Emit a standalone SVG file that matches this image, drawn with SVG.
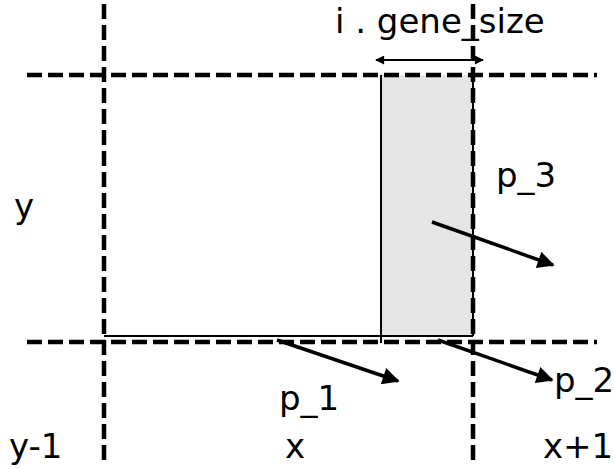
<svg xmlns="http://www.w3.org/2000/svg" width="614" height="469" viewBox="0 0 614 469">
<style>
.grid{stroke:#000;stroke-width:4.5;stroke-dasharray:15 6;fill:none}
.edge{stroke:#000;stroke-width:2;fill:none}
.arr{stroke:#000;stroke-width:3.5;fill:none;marker-end:url(#big)}
text{font-family:"DejaVu Sans",sans-serif;font-size:34px;fill:#000}
</style>
<defs>
<marker id="big" viewBox="0 0 10 10" refX="9" refY="5" markerUnits="userSpaceOnUse" markerWidth="22" markerHeight="17" orient="auto">
<path d="M0,0 L10,5 L0,10 z" fill="#000"/>
</marker>
<marker id="sm" viewBox="0 0 10 10" refX="9" refY="5" markerUnits="userSpaceOnUse" markerWidth="11" markerHeight="9" orient="auto-start-reverse">
<path d="M0,0 L10,5 L0,10 z" fill="#000"/>
</marker>
</defs>
<g id="cell">
<rect x="104" y="75" width="277" height="261" fill="#fff"/>
<rect x="381" y="75" width="92" height="261" fill="#e5e5e5"/>
<path class="edge" d="M381,75 V343 M104,336 H473 M473,75 V336"/>
</g>
<g id="gridlines">
<path class="grid" d="M104,4 V462"/>
<path class="grid" d="M473,4 V462"/>
<path class="grid" d="M27,75 H597"/>
<path class="grid" d="M27,342 H597"/>
</g>
<g id="connectors">
<path d="M376,60 H483" stroke="#000" stroke-width="2" fill="none" marker-start="url(#sm)" marker-end="url(#sm)"/>
<path class="arr" d="M432,222 L553,265"/>
<path class="arr" d="M277,340 L398,381"/>
<path class="arr" d="M438,340 L552,380"/>
</g>
<g id="labels">
<text x="335" y="33">i . gene_size</text>
<text x="14" y="218">y</text>
<text x="496" y="187">p_3</text>
<text x="279" y="410">p_1</text>
<text x="554" y="392">p_2</text>
<text x="9" y="458">y-1</text>
<text x="285" y="458">x</text>
<text x="543" y="458">x+1</text>
</g>
</svg>
